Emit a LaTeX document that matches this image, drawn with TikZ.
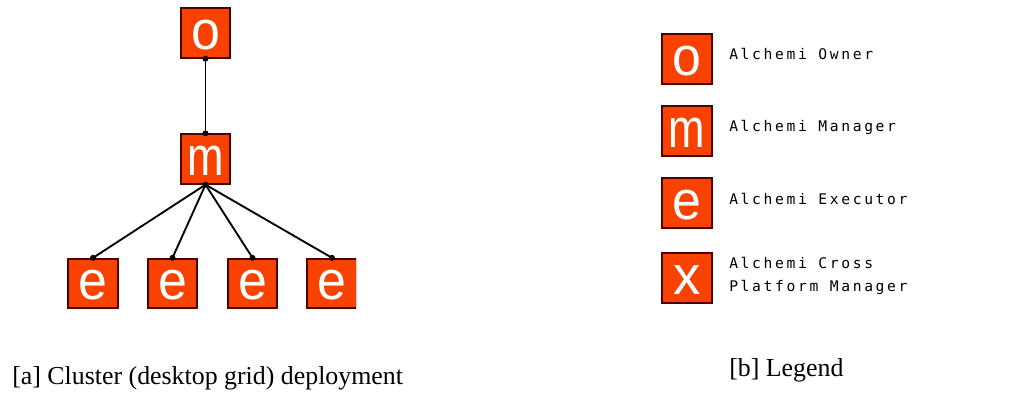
\documentclass[tikz,border=0pt]{standalone}
\usepackage{fontspec}
\setmainfont{Liberation Serif}
\newfontfamily\boxfont{Liberation Sans}
\newfontfamily\legendfont{DejaVu Sans Mono}[LetterSpace=18]
\definecolor{alchemired}{RGB}{250,66,0}
\tikzset{
  role/.style={fill=alchemired, draw=black!70!red, line width=1.3pt,
    minimum size=37.2pt, inner sep=0pt, text=white,
    text height=24pt, text depth=0pt,
    font=\boxfont\fontsize{41}{41}\selectfont},
  link/.style={line width=1.4pt},
  descr/.style={anchor=base west, inner sep=0pt, text=black,
    font=\legendfont\fontsize{11}{11}\selectfont},
  caption/.style={anchor=base west, inner sep=0pt,
    font=\fontsize{19.4}{20}\selectfont},
}
\begin{document}
\begin{tikzpicture}[x=0.75pt,y=-0.75pt]
  \useasboundingbox (0,0) rectangle (1025,394);
  % [a] cluster: owner, manager and four executors
  \begin{scope}
    \clip (0,0) rectangle (356,340);
    \node[role] (own) at (205.5,33) {\scalebox{0.95}[1]{o}};
    \node[role] (mgr) at (205.5,159) {\scalebox{0.8}[1]{m}};
    \draw[link] (own.south) -- (mgr.north);
    \fill (own.south) circle (3) (mgr.north) circle (3) (mgr.south) circle (3);
    \foreach \x [count=\i] in {93,172.5,252.5,332} {
      \node[role] (ex\i) at (\x,283.5) {\scalebox{0.95}[1]{e}};
      \draw[link] (mgr.south) -- (ex\i.north);
      \fill (ex\i.north) circle (3);
    }
  \end{scope}
  \node[caption] (capa) at (12,384) {[a] Cluster (desktop grid) deployment};
  % [b] legend
  \node[role] (keyo) at (687,59) {\scalebox{0.95}[1]{o}};
  \node[role] (keym) at (687,131) {\scalebox{0.8}[1]{m}};
  \node[role] (keye) at (687,203) {\scalebox{0.95}[1]{e}};
  \node[role] (keyx) at (687,278) {\scalebox{1}[1]{x}};
  \node[descr] (txto) at (729,59.3) {Alchemi Owner};
  \node[descr] (txtm) at (729,131.7) {Alchemi Manager};
  \node[descr] (txte) at (729,204) {Alchemi Executor};
  \node[descr] (txtx) at (729,268) {Alchemi Cross};
  \node[descr] (txtp) at (729,291) {Platform Manager};
  \node[caption] (capb) at (729,376) {[b] Legend};
\end{tikzpicture}
\end{document}
